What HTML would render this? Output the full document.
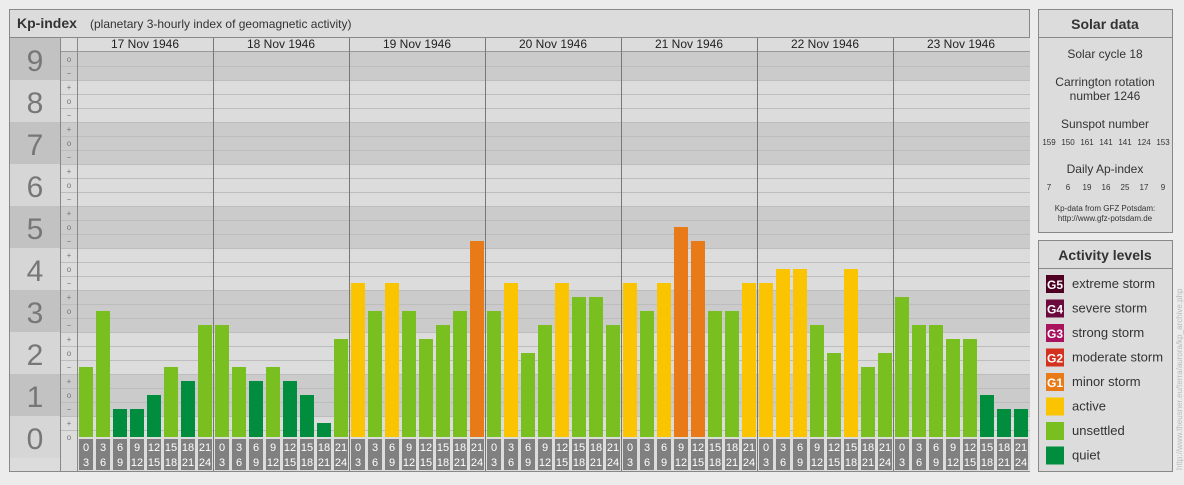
<!DOCTYPE html>
<html><head><meta charset="utf-8"><style>
body{margin:0;background:#ececec;font-family:"Liberation Sans",sans-serif}
svg text{font-family:"Liberation Sans",sans-serif}
</style></head><body>
<svg id="c" width="1184" height="480" viewBox="0 0 1184 480">
<rect x="0" y="0" width="1184" height="480" fill="#ececec"/>
<rect x="9.5" y="9.5" width="1020" height="462" fill="#dcdcdc" stroke="#888"/>
<text x="17" y="28" font-size="14" font-weight="bold" fill="#333">Kp-index</text>
<text x="90" y="28" font-size="12" fill="#333">(planetary 3-hourly index of geomagnetic activity)</text>
<line x1="9.5" y1="37.5" x2="1029.5" y2="37.5" stroke="#888"/>
<g id="plot"></g>
<rect x="1038.5" y="9.5" width="134" height="223" fill="#dcdcdc" stroke="#888"/>
<line x1="1038.5" y1="37.5" x2="1172.5" y2="37.5" stroke="#888"/>
<text x="1105" y="29" font-size="14" font-weight="bold" fill="#333" text-anchor="middle">Solar data</text>
<g font-size="12" fill="#333" text-anchor="middle">
<text x="1105" y="58">Solar cycle 18</text>
<text x="1105" y="86">Carrington rotation</text>
<text x="1105" y="100">number 1246</text>
<text x="1105" y="128">Sunspot number</text>
<text x="1105" y="173">Daily Ap-index</text>
</g>
<g id="ss" font-size="8" fill="#333" text-anchor="middle"></g>
<text x="1105" y="211" font-size="8" fill="#333" text-anchor="middle">Kp-data from GFZ Potsdam:</text>
<text x="1105" y="221" font-size="8" fill="#333" text-anchor="middle">http://www.gfz-potsdam.de</text>
<rect x="1038.5" y="240.5" width="134" height="231" fill="#dcdcdc" stroke="#888"/>
<line x1="1038.5" y1="268.5" x2="1172.5" y2="268.5" stroke="#888"/>
<text x="1105" y="260" font-size="14" font-weight="bold" fill="#333" text-anchor="middle">Activity levels</text>
<g id="leg"></g>
<text transform="translate(1182,470) rotate(-90)" font-size="8" fill="#bbb">http://www.theusner.eu/terra/aurora/kp_archive.php</text>
</svg>
<script>
const days=["17 Nov 1946","18 Nov 1946","19 Nov 1946","20 Nov 1946","21 Nov 1946","22 Nov 1946","23 Nov 1946"];
const kpThirds=[
5,9,2,2,3,5,4,8,
8,5,4,5,4,3,1,7,
11,9,11,9,7,8,9,14,
9,11,6,8,11,10,10,8,
11,9,11,15,14,9,9,11,
11,12,12,8,6,12,5,6,
10,8,8,7,7,3,2,2];
const sunspots=[159,150,161,141,141,124,153];
const apIndex=[7,6,19,16,25,17,9];
const yTicks=["0","1","2","3","4","5","6","7","8","9"];
const NS="http://www.w3.org/2000/svg";
function el(t,a,p,txt){const e=document.createElementNS(NS,t);for(const k in a)e.setAttribute(k,a[k]);if(txt!==undefined)e.textContent=txt;p.appendChild(e);return e;}
const base=437,unit=42,x0=77,dayW=136,slot=17;
const yS=v=>base-v*unit;
const g=document.getElementById('plot');
// bands
for(let k=0;k<=9;k++){
  const top=Math.max(38,base-(k+0.5)*unit),bot=Math.min(471,base-(k-0.5)*unit);
  const b=el('rect',{x:60,y:top,width:970,height:bot-top,fill:k%2?'#cbcbcb':'#dcdcdc'},g);
  
  
  el('rect',{x:10,y:top,width:50,height:bot-top,fill:k%2?'#c2c2c2':'#d6d6d6'},g);
  const t=el('text',{x:35,y:base-k*unit+12,'font-size':30,fill:'#777','text-anchor':'middle'},g,yTicks[k]);
  
  
}
// header row
el('rect',{x:60,y:38,width:970,height:13,fill:'#dcdcdc'},g);
el('line',{x1:60,y1:51.5,x2:1030,y2:51.5,stroke:'#999'},g);
// thirds grid & labels
const sym=['o','+','−'];
for(let n=0;n<=27;n++){
  const yc=base-n*14;
  const s=['o','+','−'][n%3];
  el('text',{x:69,y:yc+3,'font-size':8,fill:'#777','text-anchor':'middle'},g,n%3==0?'o':(n%3==1?'+':'−'));
  const yl=yc-7;
  if(yl>52) el('line',{x1:60,y1:yl+0.5,x2:1030,y2:yl+0.5,stroke:'#bdbdbd'},g);
}
// label cells area bg
el('rect',{x:77,y:438,width:953,height:33,fill:'#dcdcdc'},g);
el('line',{x1:60.5,y1:38,x2:60.5,y2:471,stroke:'#888'},g);
el('line',{x1:77.5,y1:38,x2:77.5,y2:471,stroke:'#888'},g);
// days
days.forEach((d,i)=>{
  const x=x0+i*dayW;
  const t=el('text',{x:x+dayW/2,y:48,'font-size':12,fill:'#222','text-anchor':'middle'},g,d);
  
  
  if(i>0) el('line',{x1:x+0.5,y1:38,x2:x+0.5,y2:471,stroke:'#777'},g);
});
function color(t){if(t>=18)return'#c4283a';if(t>=15)return'#e87a17';if(t>=14)return'#e87a17';if(t>=11)return'#fac400';if(t>=5)return'#7abf20';return'#008d3d';}
kpThirds.forEach((t,i)=>{
  const v=t/3;
  const x=x0+i*slot+2;
  const r=el('rect',{x:x,y:yS(v),width:14,height:base-yS(v),fill:color(t)},g);
  
  
  const h=(i%8)*3;
  el('rect',{x:x,y:439,width:14,height:31,fill:'#808080'},g);
  el('text',{x:x+7,y:451,'font-size':11,fill:'#fff','text-anchor':'middle'},g,String(h));
  el('text',{x:x+7,y:466,'font-size':11,fill:'#fff','text-anchor':'middle'},g,String(h+3));
});
const ss=document.getElementById('ss');
sunspots.forEach((s,i)=>{el('text',{x:1049+i*19,y:145},ss,String(s));});
apIndex.forEach((s,i)=>{el('text',{x:1049+i*19,y:190},ss,String(s));});
const leg=[["G5","#4d0022","extreme storm"],["G4","#6b0a3c","severe storm"],["G3","#a8125e","strong storm"],["G2","#d4311e","moderate storm"],["G1","#e87a17","minor storm"],["","#fac400","active"],["","#7abf20","unsettled"],["","#008d3d","quiet"]];
const lg=document.getElementById('leg');
leg.forEach((l,i)=>{
  const y=275+i*24.5;
  const r=el('rect',{x:1046,y:y,width:18,height:18,fill:l[1]},lg);
  
  
  if(l[0])el('text',{x:1055,y:y+14,'font-size':12,'font-weight':'bold',fill:'#fff','text-anchor':'middle'},lg,l[0]);
  const t=el('text',{x:1072,y:y+13,'font-size':13,fill:'#333'},lg,l[2]);
  
  
});
</script>
</body></html>
